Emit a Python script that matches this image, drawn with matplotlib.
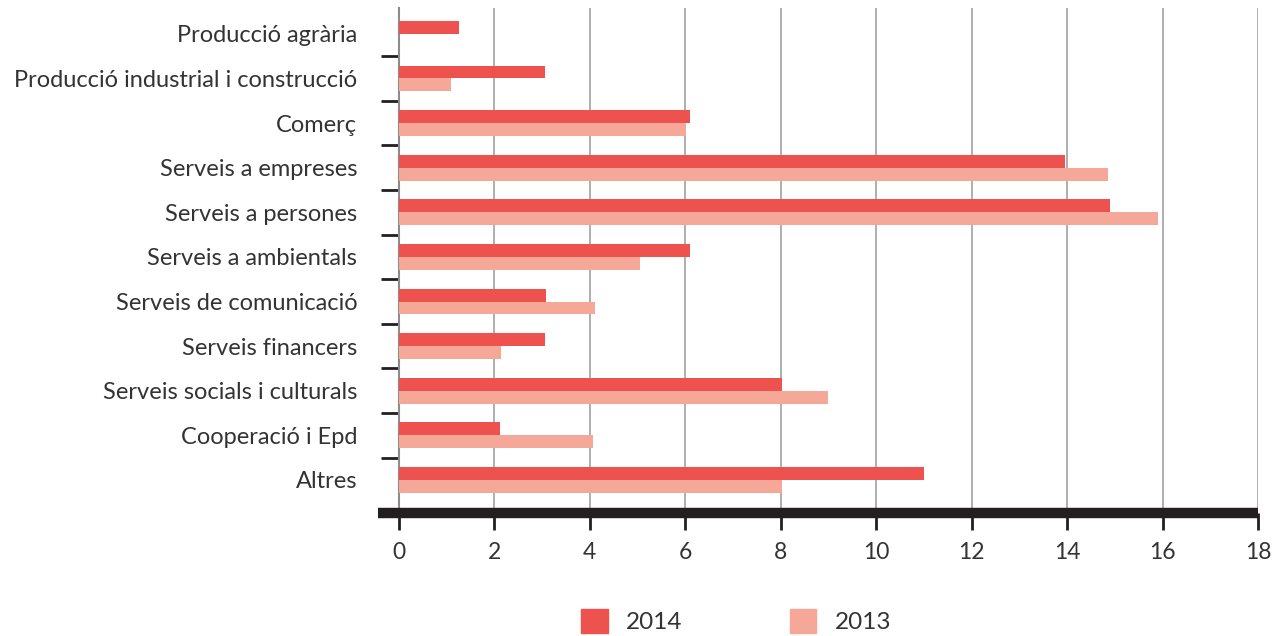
import matplotlib
matplotlib.use("Agg")
import matplotlib.pyplot as plt
import numpy as np
from matplotlib.patches import Patch

categories = ["Producció agrària", "Producció industrial i construcció", "Comerç",
              "Serveis a empreses", "Serveis a persones", "Serveis a ambientals",
              "Serveis de comunicació", "Serveis financers", "Serveis socials i culturals",
              "Cooperació i Epd", "Altres"]
v2014 = [1.26, 3.06, 6.1, 13.95, 14.9, 6.1, 3.08, 3.06, 8.03, 2.12, 11.01]
v2013 = [0, 1.09, 6.02, 14.85, 15.9, 5.06, 4.11, 2.14, 8.98, 4.07, 8.03]
xticks = [0, 2, 4, 6, 8, 10, 12, 14, 16, 18]

c2014 = "#ee524f"
c2013 = "#f5a898"
dark = "#231f20"
txt = "#333333"

plt.rcParams['font.family'] = ['Lato', 'DejaVu Sans']

fig = plt.figure(figsize=(12.76, 6.36), dpi=100)
ax = fig.add_axes([0.2962, 0.1934, 0.9859 - 0.2962, 0.9874 - 0.1934])

y = np.arange(len(categories))
h = 0.29
ax.barh(y - h / 2, v2014, height=h, color=c2014, zorder=3, label="2014")
ax.barh(y + h / 2, v2013, height=h, color=c2013, zorder=3, label="2013")

ax.set_xlim(-0.44, 18)
ax.set_ylim(10.74, -0.58)

for t in xticks[1:]:
    ax.axvline(t, color="#a8a8a8", lw=1.3, zorder=1)

ax.spines['top'].set_visible(False)
ax.spines['right'].set_visible(False)
ax.spines['left'].set_position(('data', 0))
ax.spines['left'].set_color("#8c8c8c")
ax.spines['left'].set_linewidth(1.5)
ax.spines['bottom'].set_color(dark)
ax.spines['bottom'].set_linewidth(7.5)
ax.spines['bottom'].set_capstyle('butt')
ax.spines['bottom'].set_zorder(5)

ax.set_xticks(xticks)
ax.set_xticklabels([str(t) for t in xticks], fontsize=16.5, color=txt)
ax.tick_params(axis='x', length=12, width=2, color=dark, pad=9)

ax.set_yticks(y)
ax.set_yticklabels(categories, fontsize=17, color=txt)
ax.tick_params(axis='y', which='major', length=0, pad=30)
ax.set_yticks((y[:-1] + 0.5), minor=True)
ax.tick_params(axis='y', which='minor', length=13, width=2, color=dark)

handles = [Patch(color=c2014, label="2014"), Patch(color=c2013, label="2013")]
fig.legend(handles=handles, loc="center", bbox_to_anchor=(0.577, 0.023), ncol=2,
           frameon=False, handlelength=1.1, handleheight=1.1,
           columnspacing=4.4, handletextpad=0.75, prop={'size': 17.5},
           labelcolor=txt)

fig.savefig("out.png", dpi=100)
